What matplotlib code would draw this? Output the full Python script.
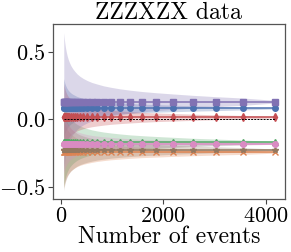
import numpy as np
import matplotlib
matplotlib.use('Agg')
import matplotlib.pyplot as plt

plt.rcParams['font.family'] = 'serif'
plt.rcParams['font.serif'] = ['cmr10', 'DejaVu Serif']
plt.rcParams['mathtext.fontset'] = 'cm'
plt.rcParams['axes.formatter.use_mathtext'] = True
plt.rcParams['axes.unicode_minus'] = True

# numero de eventos en cada punto
eventos = [54, 63, 74, 87, 102, 120, 141, 166, 195, 229, 270, 317, 372, 437,
           514, 603, 709, 833, 979, 1150, 1351, 1588, 1866, 2192, 2576, 3027,
           3557, 4182]

# valores medios de cada serie
media_azul = [0.080] * 28
media_naranja = [-0.245] * 28
media_verde = [-0.170] * 28
media_rojo = [0.015] * 28
media_morado = [0.130] * 28
media_cafe = [-0.225] * 28
media_rosa = [-0.180] * 28

# desviaciones (ancho de la banda)
std_morado = [.51, .472, .435, .401, .370, .340, .313, .288, .265, .244, .224, .204, .187, .171,
              .156, .142, .130, .117, .106, .095, .085, .075, .066, .057, .047, .037, .027, .010]
std_azul = [.22, .204, .187, .173, .160, .147, .135, .124, .114, .105, .097, .088, .081, .074,
            .067, .061, .056, .051, .046, .041, .037, .032, .028, .024, .020, .016, .011, .004]
std_rojo = [.25, .231, .213, .197, .181, .167, .154, .141, .130, .120, .110, .100, .092, .084,
            .077, .070, .064, .058, .052, .047, .042, .037, .032, .028, .023, .018, .013, .005]
std_verde = [.33, .305, .281, .259, .239, .220, .203, .186, .172, .158, .145, .132, .121, .111,
             .101, .092, .084, .076, .069, .062, .055, .049, .043, .037, .030, .024, .017, .006]
std_naranja = [.26, .241, .222, .204, .189, .173, .160, .147, .135, .125, .114, .104, .095, .087,
               .080, .073, .066, .060, .054, .049, .043, .038, .034, .029, .024, .019, .014, .005]
std_cafe = [.30, .278, .256, .236, .218, .200, .184, .170, .156, .144, .132, .120, .110, .101,
            .092, .084, .076, .069, .062, .056, .050, .044, .039, .033, .028, .022, .016, .006]
std_rosa = [.22, .204, .187, .173, .160, .147, .135, .124, .114, .105, .097, .088, .081, .074,
            .067, .061, .056, .051, .046, .041, .037, .032, .028, .024, .020, .016, .011, .004]
valor_real = [0.0] * 28

series = [
    (media_azul, std_azul, '#4C72B0', 'o'),
    (media_naranja, std_naranja, '#DD8452', 'x'),
    (media_verde, std_verde, '#55A868', '^'),
    (media_rojo, std_rojo, '#C44E52', 'd'),
    (media_morado, std_morado, '#8172B3', 's'),
    (media_cafe, std_cafe, '#937860', '*'),
    (media_rosa, std_rosa, '#DA8BC3', 'o'),
]

fig = plt.figure(figsize=(2.91, 2.52), dpi=100)
ax = fig.add_axes([0.181, 0.21, 0.798, 0.695])

x = np.array(eventos)
for media, std, color, marcador in series:
    m = np.array(media)
    s = np.array(std)
    ax.fill_between(x, m - s, m + s, color=color, alpha=0.28, lw=0)
for media, std, color, marcador in series:
    ax.plot(x, media, '-', marker=marcador, color=color, lw=1.1, ms=4,
            markeredgewidth=1)

ax.plot(x, valor_real, 'k--', lw=0.7, dashes=(2, 1.2))

ax.set_xlim(-163, 4378)
ax.set_ylim(-0.589, 0.704)
ax.set_xticks([0, 2000, 4000])
ax.set_yticks([-0.5, 0.0, 0.5])
ax.tick_params(labelsize=16, length=3.5, width=0.8, color='#444444', pad=2)
for lado in ax.spines.values():
    lado.set_color('#555555')
    lado.set_linewidth(0.9)

ax.set_xlabel('Number of events', fontsize=17, labelpad=0)
ax.set_title('ZZZXZX data', fontsize=17, pad=3)

plt.savefig('out.png', dpi=100)
